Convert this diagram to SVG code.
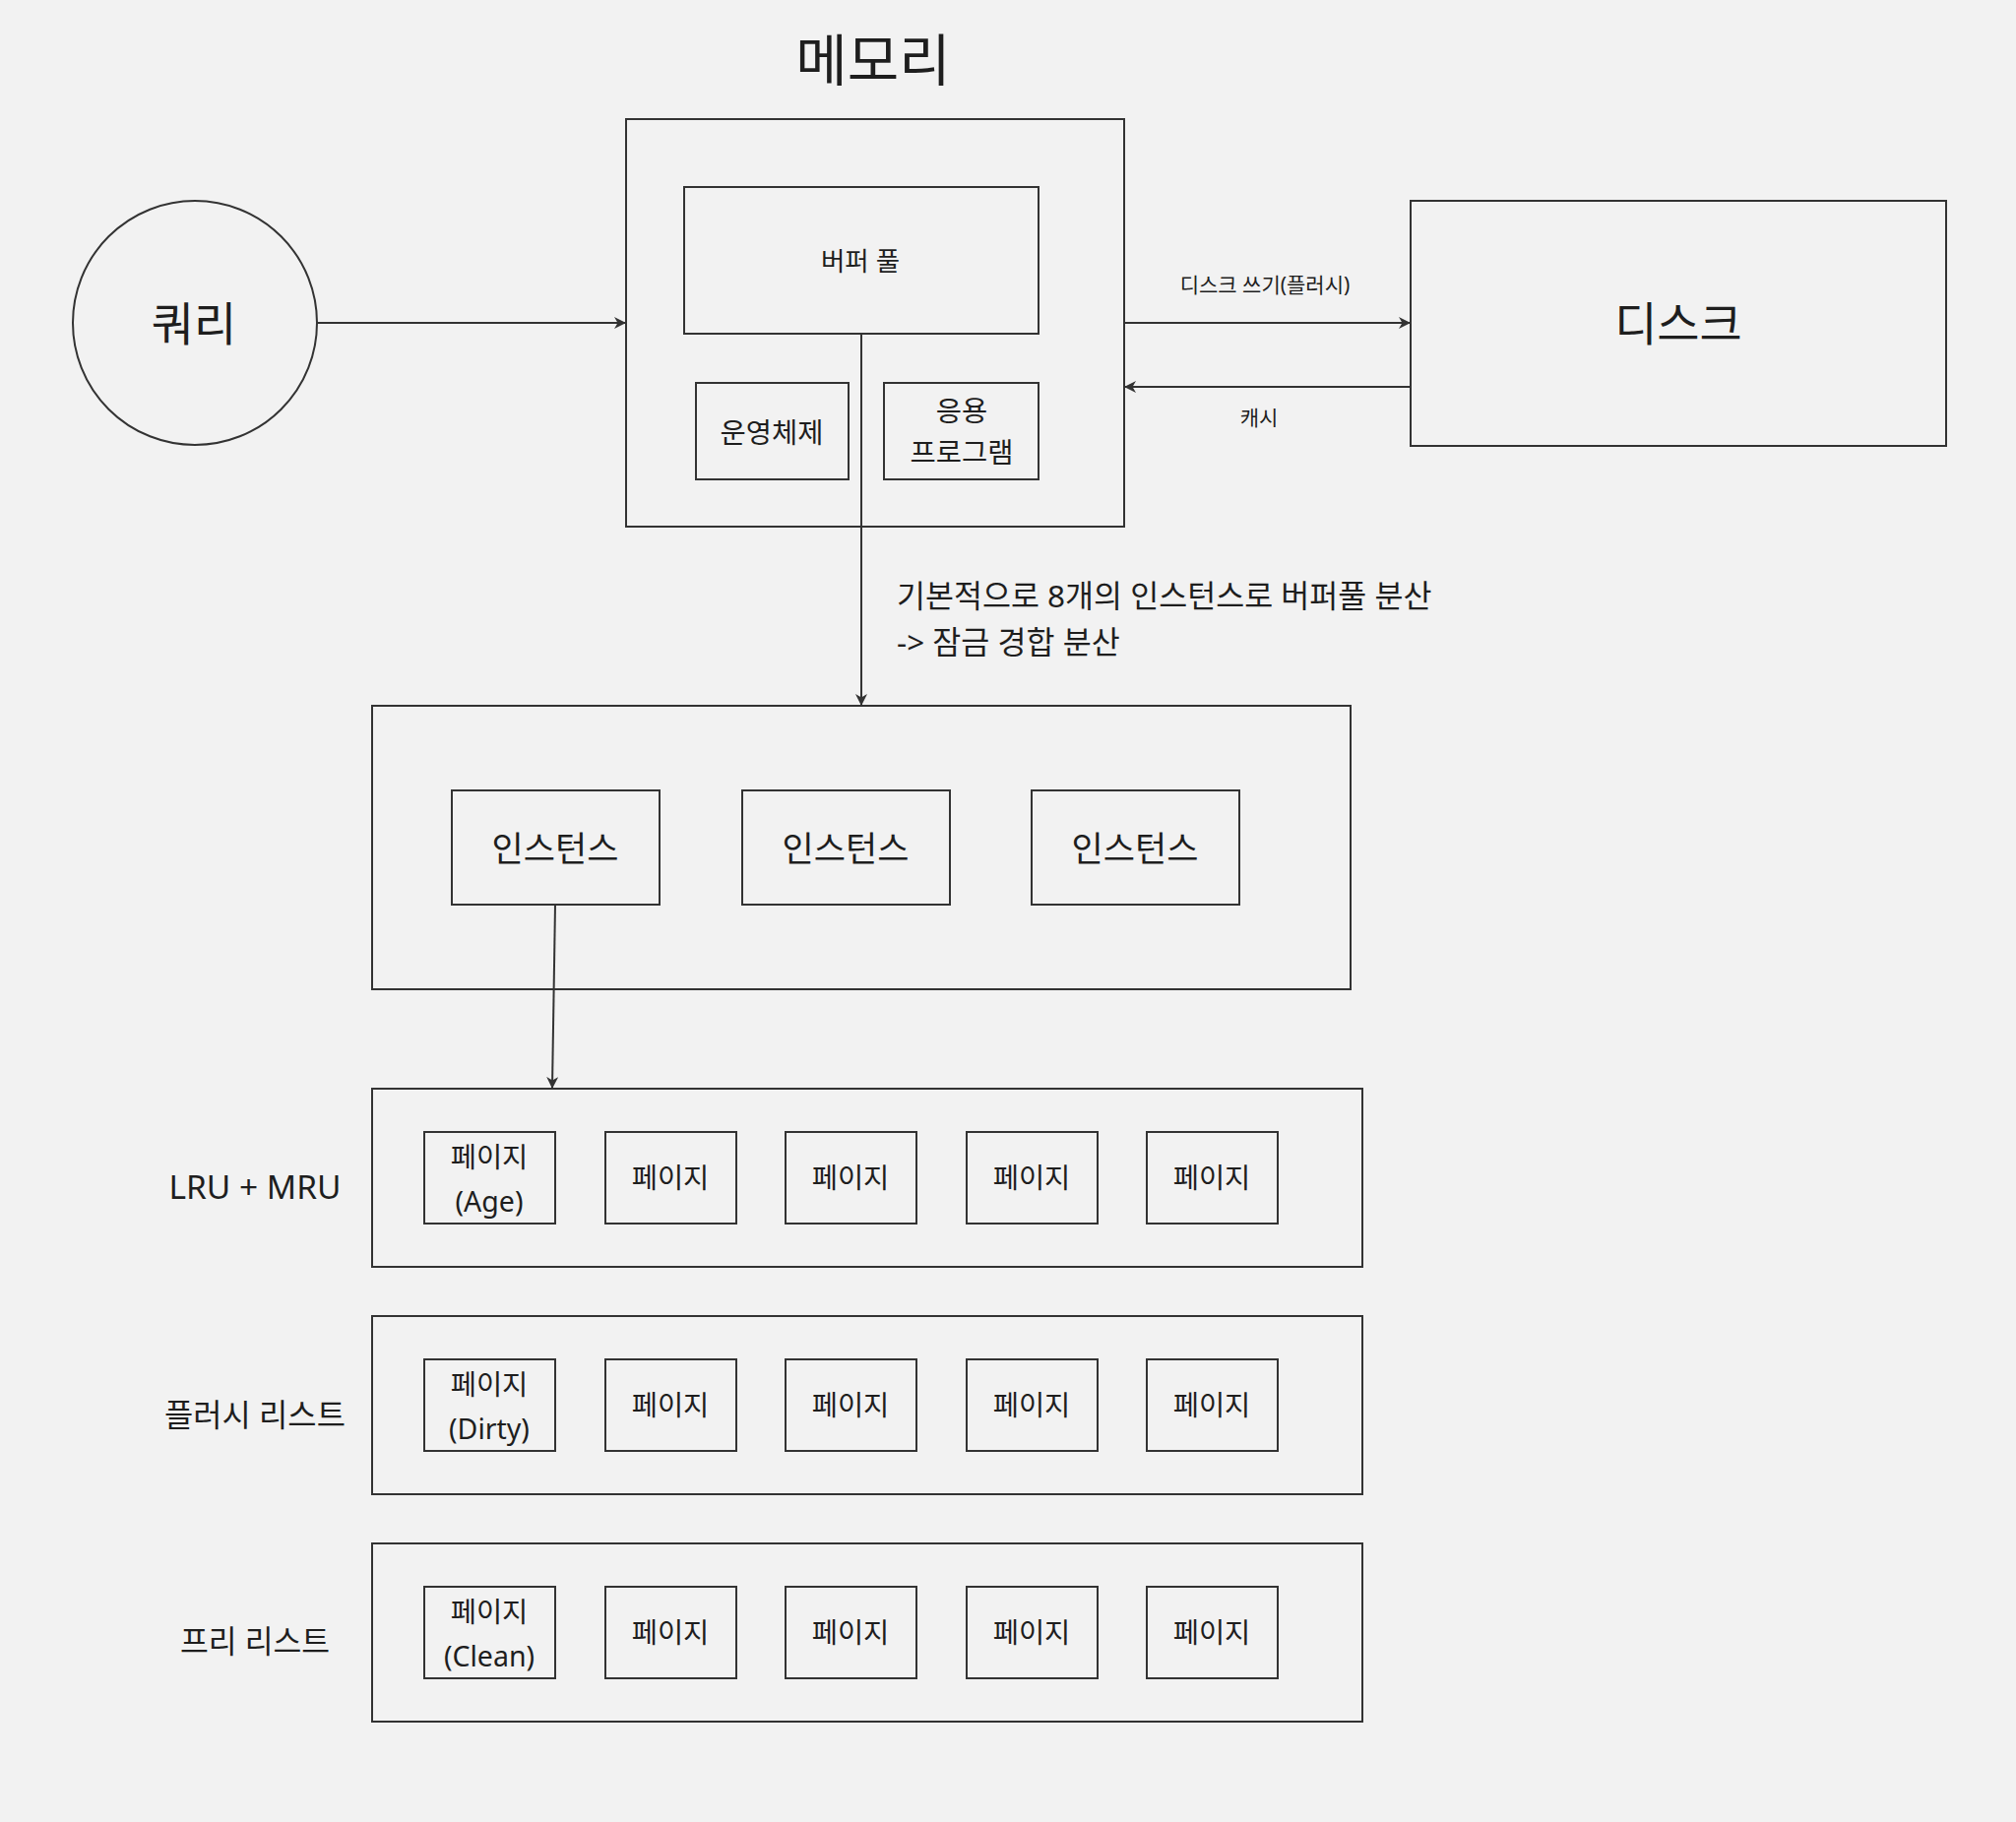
<svg xmlns="http://www.w3.org/2000/svg" width="2048" height="1851" viewBox="0 0 2048 1851">
<defs>
<marker id="arr" viewBox="0 0 12 12" refX="12" refY="6" markerWidth="12" markerHeight="12" markerUnits="userSpaceOnUse" orient="auto">
<path d="M0,0 L12,6 L0,12 L3.5,6 z" fill="#333"/>
</marker>
<style>
.box{fill:#f2f2f2;stroke:#333;stroke-width:2}
.ln{fill:none;stroke:#333;stroke-width:2}
.t{font-family:"Noto Sans","Noto Sans CJK KR",sans-serif;fill:#1e1e1e;text-anchor:middle;dominant-baseline:central}
.pg{font-size:28.5px}
</style>
</defs>
<rect width="2048" height="1851" fill="#f2f2f2"/>

<text class="t" x="887" y="60" font-size="57">메모리</text>

<g id="query">
<circle class="box" cx="198" cy="328" r="124"/>
<text class="t" x="197" y="328" font-size="47">쿼리</text>
</g>

<g id="memory">
<rect class="box" x="636" y="121" width="506" height="414"/>
</g>
<g id="bufferpool">
<rect class="box" x="695" y="190" width="360" height="149"/>
<text class="t" x="874" y="265" font-size="26.5">버퍼 풀</text>
</g>
<g id="os">
<rect class="box" x="707" y="389" width="155" height="98"/>
<text class="t" x="784" y="439" font-size="28.5">운영체제</text>
</g>
<g id="app">
<rect class="box" x="898" y="389" width="157" height="98"/>
<text class="t" x="977" y="417" font-size="28.5">응용</text>
<text class="t" x="977" y="459" font-size="28.5">프로그램</text>
</g>

<g id="disk">
<rect class="box" x="1433" y="204" width="544" height="249"/>
<text class="t" x="1705" y="328" font-size="47">디스크</text>
</g>

<text class="t" x="1285" y="289" font-size="21">디스크 쓰기(플러시)</text>
<text class="t" x="1279" y="424" font-size="21">캐시</text>

<text class="t" x="911" y="604" font-size="31.5" style="text-anchor:start">기본적으로 8개의 인스턴스로 버퍼풀 분산</text>
<text class="t" x="911" y="651" font-size="31.5" style="text-anchor:start">-&gt; 잠금 경합 분산</text>

<g id="instances">
<rect class="box" x="378" y="717" width="994" height="288"/>
</g>
<g id="inst1">
<rect class="box" x="459" y="803" width="211" height="116"/>
<text class="t" x="564" y="861" font-size="35">인스턴스</text>
</g>
<g id="inst2">
<rect class="box" x="754" y="803" width="211" height="116"/>
<text class="t" x="859" y="861" font-size="35">인스턴스</text>
</g>
<g id="inst3">
<rect class="box" x="1048" y="803" width="211" height="116"/>
<text class="t" x="1153" y="861" font-size="35">인스턴스</text>
</g>

<text class="t" x="259" y="1205" font-size="33.5">LRU + MRU</text>
<text class="t" x="259" y="1436" font-size="31.8">플러시 리스트</text>
<text class="t" x="259" y="1667" font-size="31.3">프리 리스트</text>

<g id="lru">
<rect class="box" x="378" y="1106" width="1006" height="181"/>
</g>
<g id="lru-p1"><rect class="box" x="431" y="1150" width="133" height="93"/><text class="t pg" x="497" y="1175">페이지</text><text class="t pg" x="497" y="1220">(Age)</text></g>
<g id="lru-p2"><rect class="box" x="615" y="1150" width="133" height="93"/><text class="t pg" x="681" y="1196">페이지</text></g>
<g id="lru-p3"><rect class="box" x="798" y="1150" width="133" height="93"/><text class="t pg" x="864" y="1196">페이지</text></g>
<g id="lru-p4"><rect class="box" x="982" y="1150" width="133" height="93"/><text class="t pg" x="1048" y="1196">페이지</text></g>
<g id="lru-p5"><rect class="box" x="1165" y="1150" width="133" height="93"/><text class="t pg" x="1231" y="1196">페이지</text></g>

<g id="flush">
<rect class="box" x="378" y="1337" width="1006" height="181"/>
</g>
<g id="fl-p1"><rect class="box" x="431" y="1381" width="133" height="93"/><text class="t pg" x="497" y="1406">페이지</text><text class="t pg" x="497" y="1451">(Dirty)</text></g>
<g id="fl-p2"><rect class="box" x="615" y="1381" width="133" height="93"/><text class="t pg" x="681" y="1427">페이지</text></g>
<g id="fl-p3"><rect class="box" x="798" y="1381" width="133" height="93"/><text class="t pg" x="864" y="1427">페이지</text></g>
<g id="fl-p4"><rect class="box" x="982" y="1381" width="133" height="93"/><text class="t pg" x="1048" y="1427">페이지</text></g>
<g id="fl-p5"><rect class="box" x="1165" y="1381" width="133" height="93"/><text class="t pg" x="1231" y="1427">페이지</text></g>

<g id="free">
<rect class="box" x="378" y="1568" width="1006" height="181"/>
</g>
<g id="fr-p1"><rect class="box" x="431" y="1612" width="133" height="93"/><text class="t pg" x="497" y="1637">페이지</text><text class="t pg" x="497" y="1682">(Clean)</text></g>
<g id="fr-p2"><rect class="box" x="615" y="1612" width="133" height="93"/><text class="t pg" x="681" y="1658">페이지</text></g>
<g id="fr-p3"><rect class="box" x="798" y="1612" width="133" height="93"/><text class="t pg" x="864" y="1658">페이지</text></g>
<g id="fr-p4"><rect class="box" x="982" y="1612" width="133" height="93"/><text class="t pg" x="1048" y="1658">페이지</text></g>
<g id="fr-p5"><rect class="box" x="1165" y="1612" width="133" height="93"/><text class="t pg" x="1231" y="1658">페이지</text></g>

<g id="connectors">
<line class="ln" x1="322" y1="328" x2="636" y2="328" marker-end="url(#arr)"/>
<line class="ln" x1="1142" y1="328" x2="1433" y2="328" marker-end="url(#arr)"/>
<line class="ln" x1="1433" y1="393" x2="1142" y2="393" marker-end="url(#arr)"/>
<line class="ln" x1="875" y1="339" x2="875" y2="717" marker-end="url(#arr)"/>
<line class="ln" x1="564" y1="919" x2="561" y2="1106" marker-end="url(#arr)"/>
</g>
</svg>
